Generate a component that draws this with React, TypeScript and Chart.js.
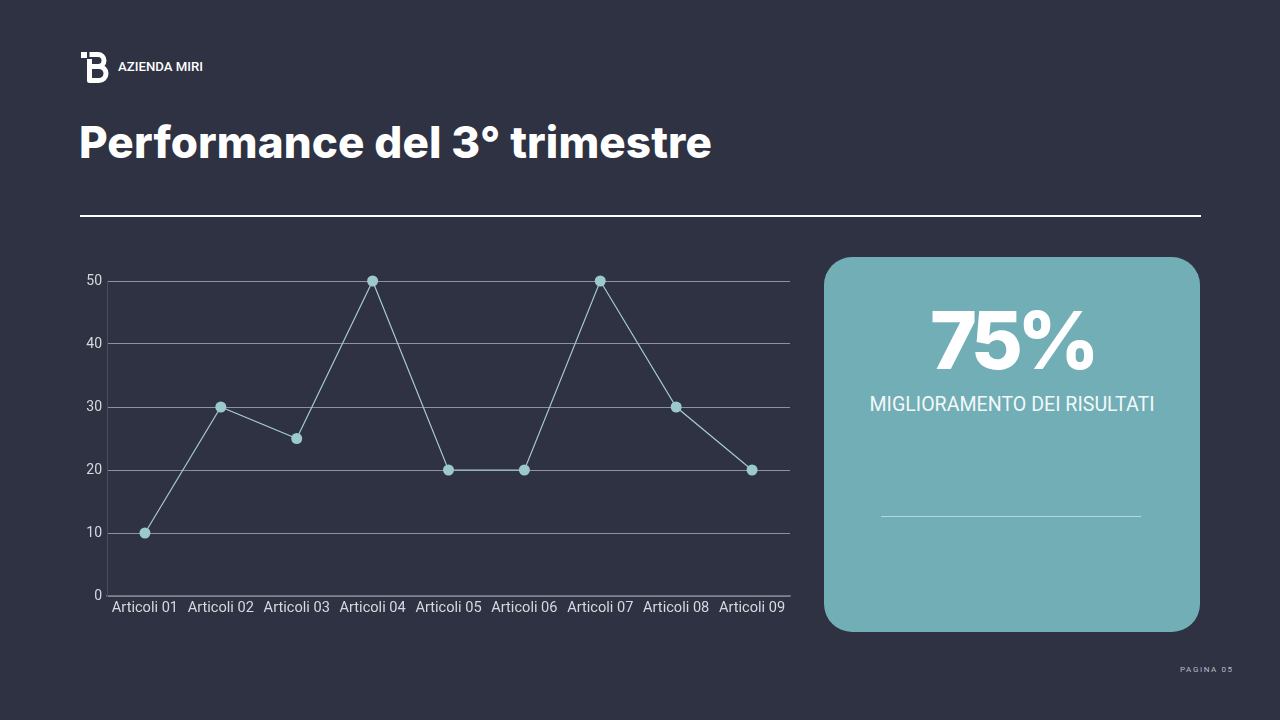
import React, { useEffect, useRef } from "react";
import { Chart, registerables } from "chart.js";

Chart.register(...registerables);

const categories = [
  "Articoli 01",
  "Articoli 02",
  "Articoli 03",
  "Articoli 04",
  "Articoli 05",
  "Articoli 06",
  "Articoli 07",
  "Articoli 08",
  "Articoli 09",
];
const seriesValues = [10, 30, 25, 50, 20, 20, 50, 30, 20];
const yTicks = [0, 10, 20, 30, 40, 50];

const BG = "#2e3242";
const CARD = "#71aeb6";

function LineChart() {
  const ref = useRef<HTMLCanvasElement | null>(null);
  useEffect(() => {
    if (!ref.current) return;
    const chart = new Chart(ref.current, {
      type: "line",
      data: {
        labels: categories,
        datasets: [
          {
            data: seriesValues,
            borderColor: "#a6cbce",
            borderWidth: 1.2,
            pointBackgroundColor: "#9ccacc",
            pointBorderWidth: 0,
            pointRadius: 5.5,
            tension: 0,
            fill: false,
            clip: false,
          },
        ],
      },
      options: {
        animation: false,
        responsive: true,
        maintainAspectRatio: false,
        layout: { padding: { top: 16, right: 10, left: 0, bottom: 0 } },
        plugins: { legend: { display: false }, tooltip: { enabled: false } },
        scales: {
          x: {
            offset: true,
            grid: { display: false, drawTicks: false },
            border: { display: true, color: "#6e7382", width: 1.5 },
            ticks: {
              color: "#d6d9df",
              font: { family: "Roboto", size: 14.6 },
              padding: 4,
              maxRotation: 0,
              autoSkip: false,
            },
            afterFit: (scale: any) => {
              scale.height = 29;
            },
          },
          y: {
            min: 0,
            max: 50,
            afterBuildTicks: (scale: any) => {
              scale.ticks = yTicks.map((v) => ({ value: v }));
            },
            grid: { color: "#8e92a0", lineWidth: 1, drawTicks: false },
            border: { display: true, color: "#474b5a", width: 1 },
            ticks: {
              color: "#d6d9df",
              font: { family: "Roboto", size: 14 },
              padding: 5,
            },
            afterFit: (scale: any) => {
              scale.width = 47;
            },
          },
        },
      },
    });
    return () => chart.destroy();
  }, []);
  return (
    <div style={{ position: "absolute", left: 60, top: 265, width: 740, height: 360 }}>
      <canvas ref={ref} />
    </div>
  );
}

export default function App() {
  return (
    <div
      style={{
        position: "fixed",
        left: 0,
        top: 0,
        width: 1280,
        height: 720,
        background: BG,
        overflow: "hidden",
        fontFamily: "Inter, sans-serif",
      }}
    >
      <svg
        style={{ position: "absolute", left: 0, top: 0 }}
        width={1280}
        height={720}
      >
        <rect x={81} y={52} width={6} height={6} fill="#fff" />
        <path
          d="M89.5 54.5 H98 A6 6 0 0 1 98 66.5 H89.5 M89.5 66.5 H99 A7 7 0 0 1 99 80.5 H89.5 V59"
          fill="none"
          stroke="#fff"
          strokeWidth={5}
          strokeLinejoin="round"
        />
      </svg>
      <div
        style={{
          position: "absolute",
          left: 118,
          top: 58,
          fontFamily: "Roboto, sans-serif",
          fontWeight: 500,
          fontSize: 13.2,
          color: "#fff",
          lineHeight: "18px",
        }}
      >
        AZIENDA MIRI
      </div>
      <div
        style={{
          position: "absolute",
          left: 79,
          top: 114,
          fontWeight: 800,
          fontSize: 44,
          letterSpacing: 0.1,
          color: "#fff",
          lineHeight: "56px",
          whiteSpace: "nowrap",
        }}
      >
        Performance del 3° trimestre
      </div>
      <div
        style={{
          position: "absolute",
          left: 80,
          top: 215,
          width: 1121,
          height: 2,
          background: "#ffffff",
        }}
      />
      <LineChart />
      <div
        style={{
          position: "absolute",
          left: 824,
          top: 257,
          width: 376,
          height: 375,
          background: CARD,
          borderRadius: 28,
        }}
      >
        <div
          style={{
            position: "absolute",
            left: 0,
            width: 376,
            top: 38,
            textAlign: "center",
            fontWeight: 800,
            fontSize: 80,
            letterSpacing: -5.5,
            lineHeight: "90px",
            color: "#fff",
          }}
        >
          75%
        </div>
        <div
          style={{
            position: "absolute",
            left: 0,
            width: 376,
            top: 136,
            textAlign: "center",
            fontFamily: "Roboto, sans-serif",
            fontWeight: 400,
            fontSize: 19.6,
            lineHeight: "24px",
            color: "#f4f8f9",
          }}
        >
          MIGLIORAMENTO DEI RISULTATI
        </div>
        <div
          style={{
            position: "absolute",
            left: 57,
            top: 259,
            width: 260,
            height: 1,
            background: "rgba(210,235,238,0.7)",
          }}
        />
      </div>
      <div
        style={{
          position: "absolute",
          left: 1180,
          top: 664,
          fontFamily: "Roboto, sans-serif",
          fontSize: 8,
          letterSpacing: 1.6,
          color: "#b9bdc8",
          lineHeight: "12px",
          whiteSpace: "nowrap",
        }}
      >
        PAGINA 05
      </div>
    </div>
  );
}
